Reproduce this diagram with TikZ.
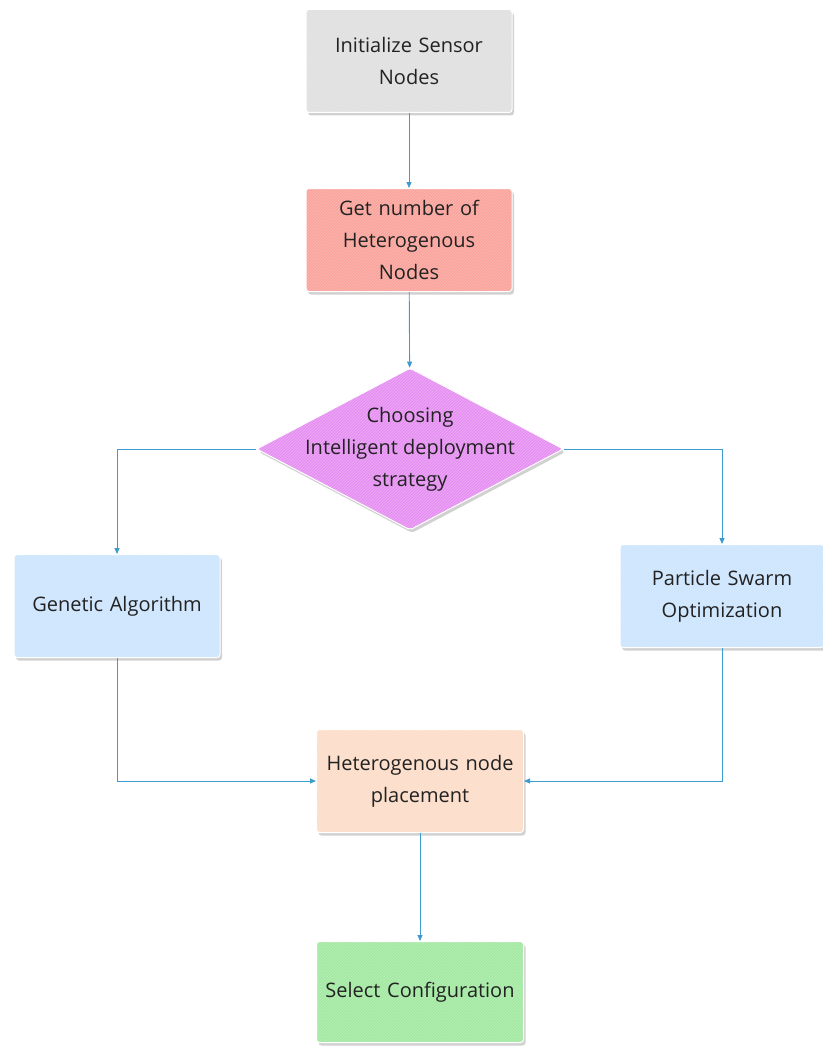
\documentclass[tikz,border=0pt]{standalone}
\usepackage{fontspec}
\setmainfont{Open Sans}
\usetikzlibrary{shapes.geometric,shadows,patterns,arrows.meta}
\definecolor{cgray}{HTML}{E0E0E0}
\definecolor{cred}{HTML}{F9A39B}
\definecolor{cviolet}{HTML}{E690F2}
\definecolor{cblue}{HTML}{CDE5FD}
\definecolor{cpeach}{HTML}{FCDDC8}
\definecolor{cgreen}{HTML}{A3E9A2}
\definecolor{cline}{HTML}{3C9BCF}
\definecolor{ctext}{HTML}{222222}
\begin{document}
\begin{tikzpicture}[x=1pt,y=-1pt,
  font=\fontsize{20}{32}\selectfont, text=ctext,
  shad/.style={drop shadow={shadow xshift=2pt,shadow yshift=-3pt,opacity=0.18,fill=black}},
  hatch/.style={postaction={pattern=north east lines,pattern color=white,opacity=0.25}},
  fbox/.style={rectangle, rounded corners=3pt, draw=white, line width=1pt, minimum width=206pt, minimum height=103pt, align=center, text width=200pt, inner sep=0pt, fill=#1, shad, hatch},
  conn/.style={draw=cline, line width=0.9pt, -{Triangle[length=6pt,width=5pt]}}
]
\useasboundingbox (0,0) rectangle (822,1046);
\node[fbox=cgray] (init) at (409,61) {Initialize Sensor\\Nodes};
\node[fbox=cred] (num) at (409,240) {Get number of\\Heterogenous\\Nodes};
\node[diamond, aspect=1.9, minimum width=307pt, minimum height=162pt, inner sep=0pt, fill=cviolet, draw=white, line width=1pt, rounded corners=3pt, shad, hatch] (dec) at (410,449) {};
\node[align=center] (dectext) at (410,449) {Choosing\\Intelligent deployment\\strategy};
\node[fbox=cblue] (ga) at (117,606) {Genetic Algorithm};
\node[fbox=cblue, minimum width=204pt] (pso) at (722,596) {Particle Swarm\\Optimization};
\node[fbox=cpeach, minimum width=207pt] (place) at (420,781) {Heterogenous node\\placement};
\node[fbox=cgreen, minimum width=207pt, minimum height=101pt] (sel) at (420,992) {Select Configuration};
\draw[conn] (init) -- (num);
\draw[conn] (num) -- (dec);
\draw[conn] (dec.west) -| (ga.north);
\draw[conn] (dec.east) -| (pso.north);
\draw[conn] (ga.south) |- (place.west);
\draw[conn] (pso.south) |- (place.east);
\draw[conn] (place) -- (sel);
\end{tikzpicture}
\end{document}
